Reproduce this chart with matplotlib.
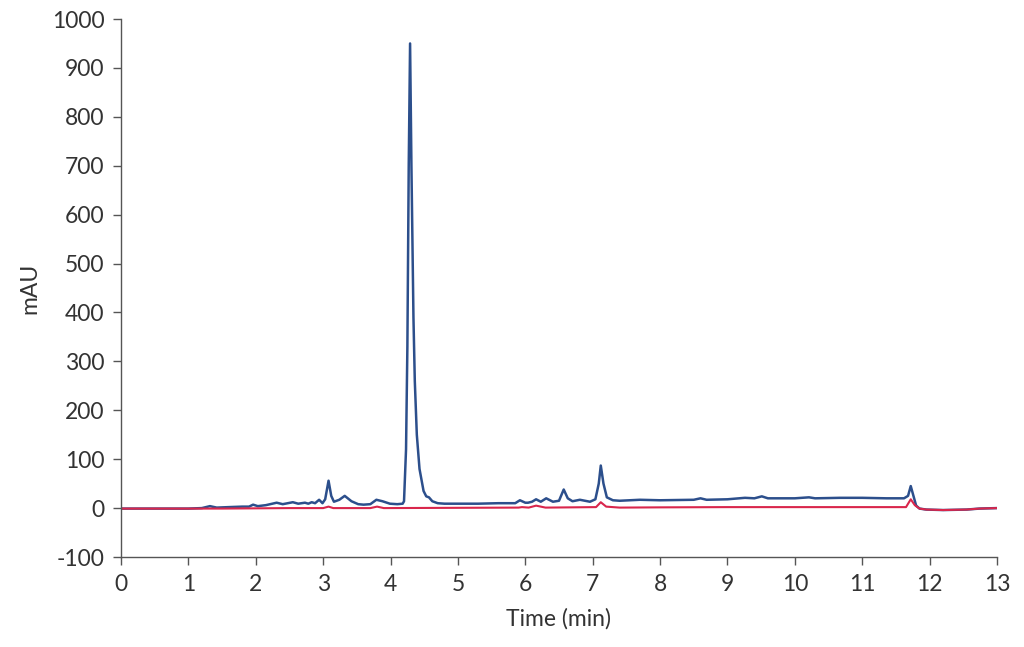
import matplotlib
matplotlib.use("Agg")
import matplotlib.pyplot as plt

blue_t = [0, 0.5, 1.0, 1.2, 1.32, 1.42, 1.6, 1.8, 1.9, 1.96, 2.03, 2.15, 2.31, 2.4, 2.55, 2.63,
          2.73, 2.78, 2.83, 2.88, 2.94, 2.99, 3.03, 3.08, 3.12, 3.16, 3.24, 3.32, 3.42, 3.52,
          3.6, 3.7, 3.79, 3.88, 3.99, 4.1, 4.18, 4.2, 4.23, 4.25, 4.27, 4.29, 4.31, 4.34, 4.36,
          4.39, 4.43, 4.49, 4.53, 4.57, 4.62, 4.7, 4.8, 5.0, 5.3, 5.6, 5.85, 5.92, 6.0, 6.04,
          6.1, 6.16, 6.23, 6.31, 6.41, 6.5, 6.57, 6.63, 6.7, 6.81, 6.96, 7.04, 7.09, 7.12, 7.16,
          7.21, 7.3, 7.4, 7.7, 8.0, 8.5, 8.6, 8.69, 9.0, 9.26, 9.4, 9.51, 9.6, 10.0, 10.21,
          10.3, 10.67, 11.0, 11.36, 11.62, 11.68, 11.72, 11.76, 11.8, 11.85, 11.95, 12.2,
          12.55, 12.74, 13.0]
blue_v = [-1, -1, -1, 0, 4, 1, 2, 3, 3, 7, 4, 6, 11, 8, 12, 9,
          11, 9, 12, 10, 17, 10, 18, 56, 25, 13, 17, 25, 14, 8,
          7, 8, 17, 14, 9, 8, 9, 14, 120, 330, 700, 950, 700, 390, 260,
          150, 80, 35, 24, 22, 14, 10, 9, 9, 9, 10, 10, 16, 11, 11,
          13, 18, 13, 20, 13, 15, 38, 20, 14, 17, 13, 18, 50, 87, 50,
          22, 16, 15, 17, 16, 17, 20, 17, 18, 21, 20, 24, 20, 20, 22,
          20, 21, 21, 20, 20, 25, 45, 25, 5, -1, -3, -4,
          -3, -1, 0]

red_t = [0, 1.5, 2.5, 3.0, 3.08, 3.15, 3.7, 3.8, 3.9, 5.9, 5.95, 6.05, 6.16, 6.3, 7.05, 7.12,
         7.2, 7.4, 8.0, 9.0, 10.0, 11.0, 11.65, 11.72, 11.78, 11.85, 11.95, 12.2, 12.55, 12.74, 13.0]
red_v = [-1, -1, 0, 0, 3, 0, 0, 3, 0, 1, 2, 1, 5, 1, 2, 12,
         3, 1, 1.5, 2, 2, 2, 2, 18, 6, -1, -3, -4, -3, -1, 0]

x_ticks = list(range(0, 14))
y_ticks = list(range(-100, 1001, 100))

plt.rcParams['font.family'] = ['Lato', 'DejaVu Sans']
plt.rcParams['axes.unicode_minus'] = False
text_color = '#333333'
axis_color = '#555555'

fig = plt.figure(figsize=(10.24, 6.47), dpi=100)
ax = fig.add_axes([121/1024, 1 - 557/647, (997-121)/1024, (557-19)/647])

ax.plot(blue_t, blue_v, color='#2c4f8c', lw=1.8, solid_joinstyle='round')
ax.plot(red_t, red_v, color='#d9264c', lw=1.5, solid_joinstyle='round')

ax.set_xlim(0, 13)
ax.set_ylim(-100, 1000)
ax.set_xticks(x_ticks)
ax.set_yticks(y_ticks)
ax.spines['top'].set_visible(False)
ax.spines['right'].set_visible(False)
for s in ['left', 'bottom']:
    ax.spines[s].set_color(axis_color)
    ax.spines[s].set_linewidth(1.0)
ax.tick_params(axis='both', direction='out', length=6, width=1.0, color=axis_color,
               labelsize=16.5, labelcolor=text_color, pad=6)

ax.set_xlabel('Time (min)', fontsize=16.5, color=text_color, labelpad=10)
ax.set_ylabel('mAU', fontsize=16.5, color=text_color, labelpad=8)

fig.savefig('out.png', dpi=100)
